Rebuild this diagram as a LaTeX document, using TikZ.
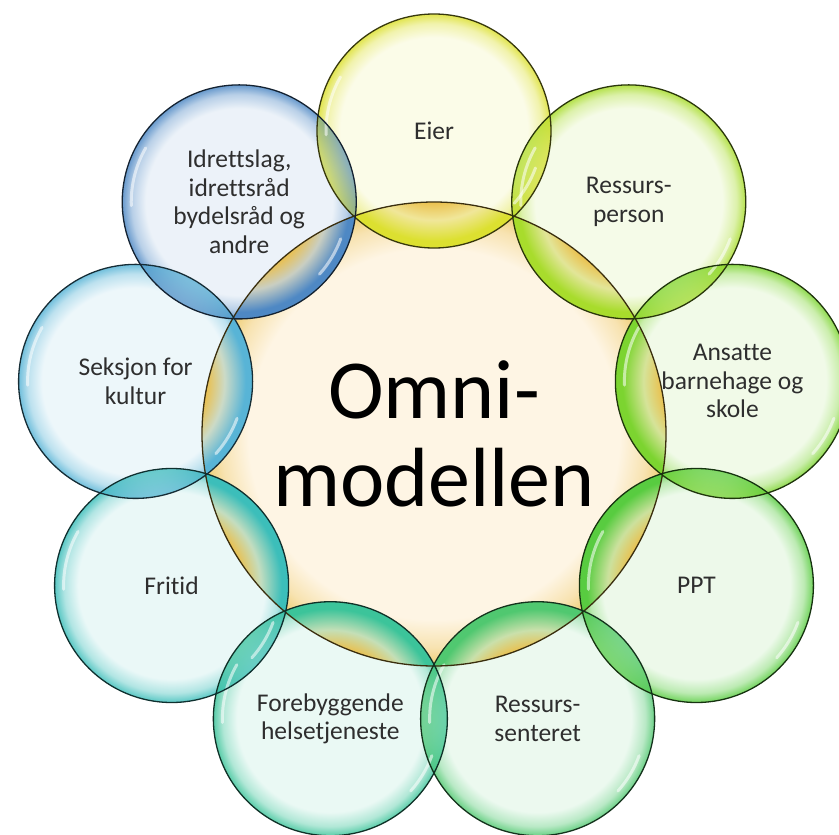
\documentclass[tikz,border=0pt]{standalone}
\usepackage{fontspec}
\setmainfont{Carlito}[Ligatures=CommonOff]
\usetikzlibrary{calc}
\definecolor{ccen}{HTML}{E8B838}
\definecolor{ccream}{HTML}{FEF5E4}
\definecolor{ceier}{HTML}{DCE030}
\definecolor{cress}{HTML}{A8DC2C}
\definecolor{cans}{HTML}{7CD430}
\definecolor{cppt}{HTML}{58CC40}
\definecolor{csent}{HTML}{50C870}
\definecolor{cfore}{HTML}{3CC49A}
\definecolor{cfri}{HTML}{3CBEBA}
\definecolor{cseks}{HTML}{58B4D6}
\definecolor{cidr}{HTML}{4E88C4}
\definecolor{txt}{HTML}{2E2E2E}
\pgfdeclareradialshading[bubin,bubmid,bubout]{bubble}{\pgfpointorigin}{color(0bp)=(bubin); color(20bp)=(bubin); color(23bp)=(bubmid); color(25bp)=(bubout); color(50bp)=(bubout)}
\pgfdeclareradialshading[lna,lnm,lnb]{lensc}{\pgfpointorigin}{color(0bp)=(lna); color(15bp)=(lna); color(19bp)=(lnm); color(23.5bp)=(lnb); color(50bp)=(lnb)}
\pgfdeclareradialshading[loa,lob]{lenso}{\pgfpointorigin}{color(0bp)=(loa); color(20bp)=(loa); color(25bp)=(lob); color(50bp)=(lob)}
\tikzset{
  disc/.style={circle, inner sep=0pt, minimum size=#1},
  ring/.style={circle, inner sep=0pt, minimum size=#1, draw, line width=1.3pt},
  lbl/.style={align=center, text=txt, font=\fontsize{25.5}{28.5}\selectfont},
  gloss/.style={white, line width=3pt, line cap=round, opacity=0.55},
}
\begin{document}
\begin{tikzpicture}[x=1pt,y=1pt]
\useasboundingbox (0,0) rectangle (839,-835);
\clip (0,0) rectangle (839,-835);
\coordinate (C) at (434,-434);
% central circle
\colorlet{bubin}{ccream}\colorlet{bubmid}{ccen!30!ccream}\colorlet{bubout}{ccen!70!white}
\node[disc=464pt, shade, shading=bubble] (cen) at (C) {};
% outer circles
\foreach \ang/\col/\nm in {90/ceier/eier, 50/cress/ress, 10/cans/ans, -30/cppt/ppt, -70/csent/sent, -110/cfore/fore, -150/cfri/fri, 170/cseks/seks, 130/cidr/idr}{
  \colorlet{bubin}{\col!11!white}\colorlet{bubmid}{\col!40!white}\colorlet{bubout}{\col!85!white}
  \node[disc=234pt, shade, shading=bubble] (\nm) at ($(C)+(\ang:303)$) {};
}
% lenses with the central circle
\foreach \col/\nm in {ceier/eier, cress/ress, cans/ans, cppt/ppt, csent/sent, cfore/fore, cfri/fri, cseks/seks, cidr/idr}{
  \begin{scope}
    \clip (cen.center) circle[radius=232];
    \colorlet{lna}{ccen!90!white}\colorlet{lnm}{ccen!45!\col!50!white}\colorlet{lnb}{\col}
    \path[shade, shading=lensc] (\nm.center) circle[radius=117];
  \end{scope}
}
% lenses between neighbouring outer circles
\foreach \ca/\a/\cb/\b in {ceier/eier/cress/ress, cress/ress/cans/ans, cans/ans/cppt/ppt, cppt/ppt/csent/sent, csent/sent/cfore/fore, cfore/fore/cfri/fri, cfri/fri/cseks/seks, cseks/seks/cidr/idr, cidr/idr/ceier/eier}{
  \begin{scope}
    \clip (\a.center) circle[radius=117];
    \colorlet{loa}{\ca!50!\cb!60!white}\colorlet{lob}{\cb}
    \path[shade, shading=lenso] (\b.center) circle[radius=117];
  \end{scope}
  \begin{scope}
    \clip (\b.center) circle[radius=117];
    \colorlet{loa}{\ca!50!\cb!60!white}\colorlet{lob}{\ca}
    \path[shade, shading=lenso, fill opacity=0.5] (\a.center) circle[radius=117];
  \end{scope}
}
% gloss highlights
\foreach \nm in {eier, ress, ans, ppt, sent, fore, fri, seks, idr}{
  \draw[gloss] ($(\nm.center)+(150:108)$) arc[start angle=150, end angle=182, radius=108];
  \draw[gloss] ($(\nm.center)+(-20:108)$) arc[start angle=-20, end angle=-42, radius=108];
}
% outlines
\node[ring=464pt, draw=ccen!25!black] (cenr) at (cen) {};
\foreach \col/\nm in {ceier/eier, cress/ress, cans/ans, cppt/ppt, csent/sent, cfore/fore, cfri/fri, cseks/seks, cidr/idr}{
  \node[ring=234pt, draw=\col!25!black] (\nm r) at (\nm) {};
}
% labels
\node[lbl] (teier) at (eier) {Eier};
\node[lbl] (tress) at (ress) {Ressurs-\\person};
\node[lbl] (tans) at (ans) {Ansatte\\barnehage og\\skole};
\node[lbl] (tppt) at (ppt) {PPT};
\node[lbl] (tsent) at (sent) {Ressurs-\\senteret};
\node[lbl] (tfore) at (fore) {Forebyggende\\helsetjeneste};
\node[lbl] (tfri) at (fri) {Fritid};
\node[lbl] (tseks) at (seks) {Seksjon for\\kultur};
\node[lbl] (tidr) at (idr) {Idrettslag,\\idrettsråd\\bydelsråd og\\andre};
\node[align=center, text=black, font=\fontsize{84}{88}\selectfont] (tcen) at (cen) {Omni-\\modellen};
\end{tikzpicture}
\end{document}
